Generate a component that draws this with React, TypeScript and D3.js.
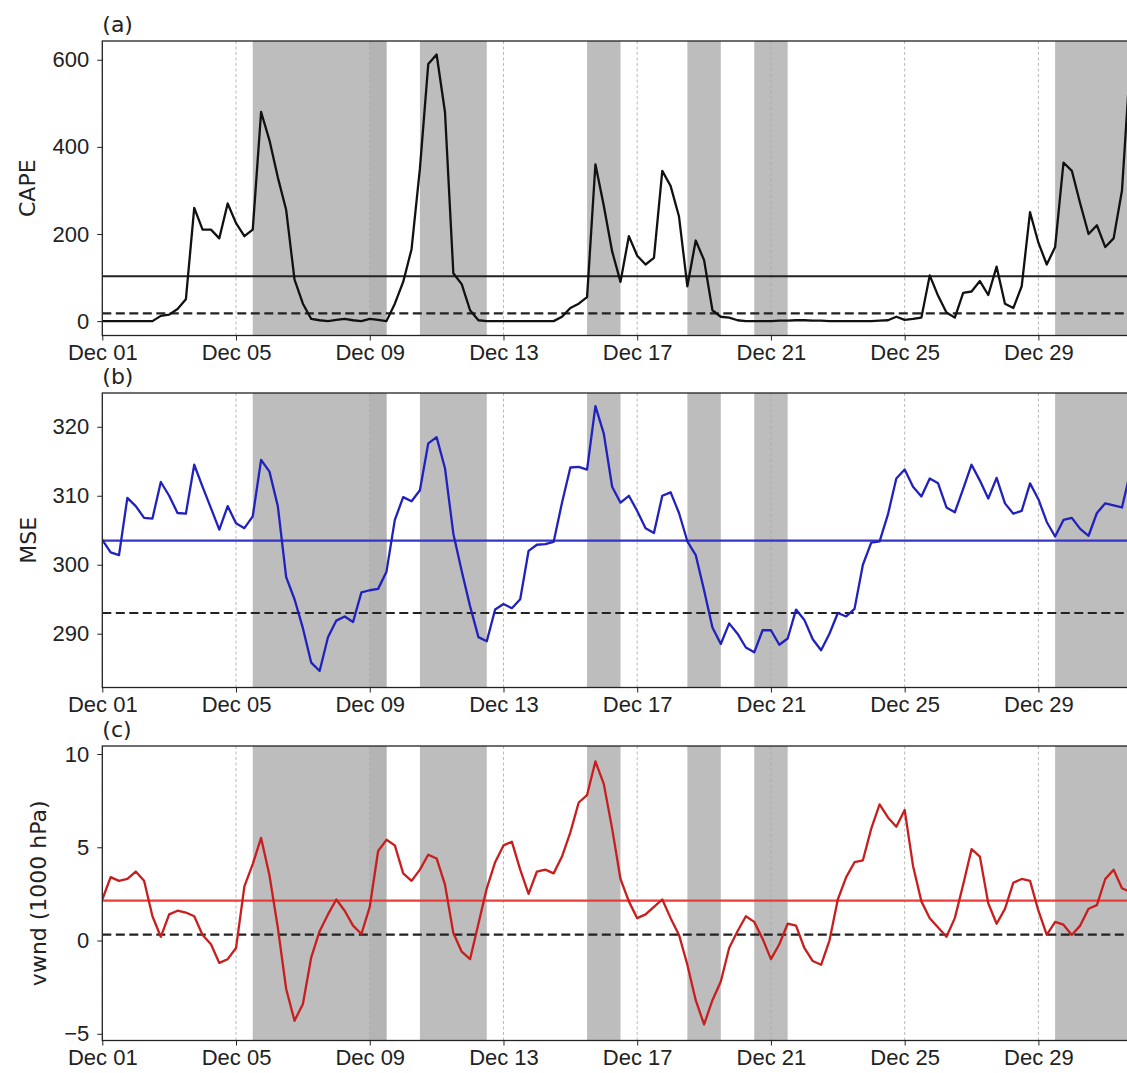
import React, { useEffect, useRef } from "react";
import * as d3 from "d3";

// 6-hourly values from Dec 01 00:00
const cape = [
  0, 0, 0, 0, 0, 0, 0,
  12, 15, 28, 50,
  260, 210, 210, 190, 270, 225, 195, 210,
  480, 415, 330, 255, 95, 40, 5, 2,
  0, 3, 5, 2, 0, 5, 3, 0,
  40, 90, 165, 350, 590, 612, 480, 110, 85, 25, 2,
  0, 0, 0, 0, 0, 0, 0, 0, 0,
  10, 30, 40, 55, 360, 265, 160, 90,
  195, 150, 130, 145, 345, 310, 240, 80,
  185, 140, 25, 10, 8, 2,
  0, 0, 0, 0, 1, 1, 2, 2, 1, 1, 0, 0, 0, 0, 0, 0, 1, 2,
  10, 3, 5, 8,
  105, 58, 20, 8, 65, 68, 92, 60,
  125, 40, 30, 80, 250, 180, 130, 170,
  364, 345, 270, 200, 220, 170, 190, 300, 600,
];

const mse = [
  303.6, 301.8, 301.4, 309.7, 308.5, 306.8, 306.7, 312, 310, 307.5,
  307.4, 314.5, 311.3, 308.2, 305.1, 308.5, 306, 305.3, 307, 315.2,
  313.5, 308.5, 298.2, 295, 290.8, 285.8, 284.6, 289.5, 291.9, 292.5,
  291.7, 296, 296.3, 296.5, 299, 306.5, 309.8, 309.2, 310.8, 317.6,
  318.5, 314, 304.5, 299.1, 294, 289.5, 288.9, 293.5, 294.3, 293.7,
  295, 302, 302.9, 303, 303.3, 309, 314.1, 314.2, 313.8, 323,
  319, 311.3, 309, 310, 307.8, 305.3, 304.6, 310, 310.5, 307.5,
  303.4, 301.4, 296.3, 290.9, 288.5, 291.5, 290, 288, 287.3, 290.5,
  290.5, 288.4, 289.3, 293.5, 292, 289.2, 287.6, 290, 293, 292.5,
  293.6, 300, 303.2, 303.4, 307.3, 312.5, 313.8, 311.3, 309.9, 312.5,
  311.8, 308.3, 307.6, 311, 314.5, 312.2, 309.6, 312.6, 308.9, 307.4,
  307.8, 311.8, 309.5, 306.2, 304.1, 306.5, 306.8, 305.2, 304.2, 307.5,
  308.9, 308.6, 308.3, 313.5,
];

const vwnd = [
  2.2, 3.4, 3.2, 3.3, 3.7, 3.2, 1.3, 0.2, 1.4, 1.6,
  1.5, 1.3, 0.3, -0.2, -1.2, -1.0, -0.4, 2.9, 4.1, 5.5,
  3.5, 0.7, -2.6, -4.3, -3.4, -0.9, 0.5, 1.4, 2.2, 1.6,
  0.8, 0.35, 1.8, 4.8, 5.4, 5.1, 3.6, 3.2, 3.8, 4.6,
  4.4, 3.0, 0.4, -0.6, -1.0, 0.9, 2.8, 4.2, 5.1, 5.3,
  3.8, 2.5, 3.7, 3.8, 3.6, 4.5, 5.8, 7.4, 7.8, 9.6,
  8.4, 6.0, 3.3, 2.1, 1.2, 1.4, 1.8, 2.2, 1.2, 0.3,
  -1.3, -3.2, -4.5, -3.2, -2.2, -0.4, 0.5, 1.3, 1.0, 0.1,
  -1.0, -0.2, 0.9, 0.8, -0.4, -1.1, -1.3, 0.0, 2.2, 3.4,
  4.2, 4.3, 6.0, 7.3, 6.6, 6.1, 7.0, 4.0, 2.1, 1.2,
  0.7, 0.2, 1.2, 3.0, 4.9, 4.5, 2.0, 0.9, 1.7, 3.1,
  3.3, 3.2, 1.6, 0.3, 1.0, 0.85, 0.3, 0.8, 1.7, 1.9,
  3.3, 3.8, 2.8, 2.6,
];

// shaded periods
const bands = [
  ["2000-12-05T12:00Z", "2000-12-09T12:00Z"],
  ["2000-12-10T12:00Z", "2000-12-12T12:00Z"],
  ["2000-12-15T12:00Z", "2000-12-16T12:00Z"],
  ["2000-12-18T12:00Z", "2000-12-19T12:00Z"],
  ["2000-12-20T12:00Z", "2000-12-21T12:00Z"],
  ["2000-12-29T12:00Z", "2001-01-01T00:00Z"],
];
const overlap = [["2000-12-09T00:00Z", "2000-12-09T12:00Z"]];

const tickDates = ["2000-12-01", "2000-12-05", "2000-12-09", "2000-12-13", "2000-12-17", "2000-12-21", "2000-12-25", "2000-12-29"];

const capeTicks = [0, 200, 400, 600];
const mseTicks = [290, 300, 310, 320];
const vwndTicks = [-5, 0, 5, 10];

// solid = mean, dashed = threshold
const capeLines = [103, 18];
const mseLines = [303.5, 293];
const vwndLines = [2.14, 0.32];

const W = 1127;
const H = 1073;
const left = 102.3;
const right = 1138.7;
const ph = 294.5;
const fs = 22;

const panels = [
  { tag: "(a)", label: "CAPE", labelX: 35, top: 41, data: cape, domain: [-33, 643], ticks: capeTicks, lines: capeLines, color: "#111111", meanColor: "#222222" },
  { tag: "(b)", label: "MSE", labelX: 36, top: 393, data: mse, domain: [282.2, 324.9], ticks: mseTicks, lines: mseLines, color: "#2121bd", meanColor: "#3434c8" },
  { tag: "(c)", label: "vwnd (1000 hPa)", labelX: 46, top: 746, data: vwnd, domain: [-5.36, 10.43], ticks: vwndTicks, lines: vwndLines, color: "#c81e1e", meanColor: "#ee3b3b" },
];

export default function App() {
  const svgRef = useRef(null);

  useEffect(() => {
    const svg = d3.select(svgRef.current);
    svg.selectAll("*").remove();

    const start = new Date("2000-12-01T00:00Z");
    const end = new Date("2001-01-01T00:00Z");
    const x = d3.scaleUtc().domain([start, end]).range([left, right]);
    const times = panels[0].data.map((_, i) => new Date(start.getTime() + i * 6 * 3600e3));
    const ticks = tickDates.map((d) => new Date(d + "T00:00Z"));

    panels.forEach((p, k) => {
      const y = d3.scaleLinear().domain(p.domain).range([p.top + ph, p.top]);
      const g = svg.append("g").attr("font-family", "DejaVu Sans, sans-serif");

      const clipId = `clip${k}`;
      g.append("clipPath").attr("id", clipId)
        .append("rect").attr("x", left).attr("y", p.top).attr("width", right - left).attr("height", ph);

      const plot = g.append("g").attr("clip-path", `url(#${clipId})`);

      plot.selectAll("rect.band").data(bands).join("rect")
        .attr("x", (d) => x(new Date(d[0])))
        .attr("width", (d) => x(new Date(d[1])) - x(new Date(d[0])))
        .attr("y", p.top).attr("height", ph)
        .attr("fill", "#bdbdbd");

      plot.selectAll("rect.ov").data(overlap).join("rect")
        .attr("x", (d) => x(new Date(d[0])))
        .attr("width", (d) => x(new Date(d[1])) - x(new Date(d[0])))
        .attr("y", p.top).attr("height", ph)
        .attr("fill", "#b4b4b4");

      plot.selectAll("line.grid").data(ticks).join("line")
        .attr("x1", (d) => x(d)).attr("x2", (d) => x(d))
        .attr("y1", p.top).attr("y2", p.top + ph)
        .attr("stroke", "#a8a8a8").attr("stroke-width", 0.8)
        .attr("stroke-dasharray", "3,2.5");

      plot.append("line")
        .attr("x1", left).attr("x2", right)
        .attr("y1", y(p.lines[0])).attr("y2", y(p.lines[0]))
        .attr("stroke", p.meanColor).attr("stroke-width", 2.2);

      plot.append("line")
        .attr("x1", left).attr("x2", right)
        .attr("y1", y(p.lines[1])).attr("y2", y(p.lines[1]))
        .attr("stroke", "#222").attr("stroke-width", 2.2)
        .attr("stroke-dasharray", "9,4.5");

      const line = d3.line<number>()
        .x((_, i) => x(times[i]))
        .y((d) => y(d));

      plot.append("path").datum(p.data)
        .attr("fill", "none")
        .attr("stroke", p.color)
        .attr("stroke-width", 2.3)
        .attr("stroke-linejoin", "round")
        .attr("d", line);

      g.append("rect")
        .attr("x", left).attr("y", p.top).attr("width", right - left).attr("height", ph)
        .attr("fill", "none").attr("stroke", "#222").attr("stroke-width", 1.3);

      const xa = g.append("g").attr("transform", `translate(0,${p.top + ph})`)
        .call(d3.axisBottom(x).tickValues(ticks).tickFormat(d3.utcFormat("%b %d") as any).tickSize(5).tickPadding(4));
      xa.select(".domain").remove();
      xa.selectAll("text").attr("font-size", fs).attr("fill", "#222");
      xa.selectAll("line").attr("stroke", "#222");

      const ya = g.append("g").attr("transform", `translate(${left},0)`)
        .call(d3.axisLeft(y).tickValues(p.ticks).tickSize(5).tickPadding(8));
      ya.select(".domain").remove();
      ya.selectAll("text").attr("font-size", fs).attr("fill", "#222");
      ya.selectAll("line").attr("stroke", "#222");

      g.append("text")
        .attr("x", left).attr("y", p.top - 9)
        .attr("font-size", fs).attr("fill", "#222")
        .text(p.tag);

      g.append("text")
        .attr("transform", `translate(${p.labelX},${p.top + ph / 2}) rotate(-90)`)
        .attr("text-anchor", "middle")
        .attr("font-size", fs).attr("fill", "#222")
        .text(p.label);
    });
  }, []);

  return (
    <div style={{ position: "absolute", left: 0, top: 0 }}>
      <svg ref={svgRef} width={W} height={H} style={{ display: "block", background: "#fff" }} />
    </div>
  );
}
